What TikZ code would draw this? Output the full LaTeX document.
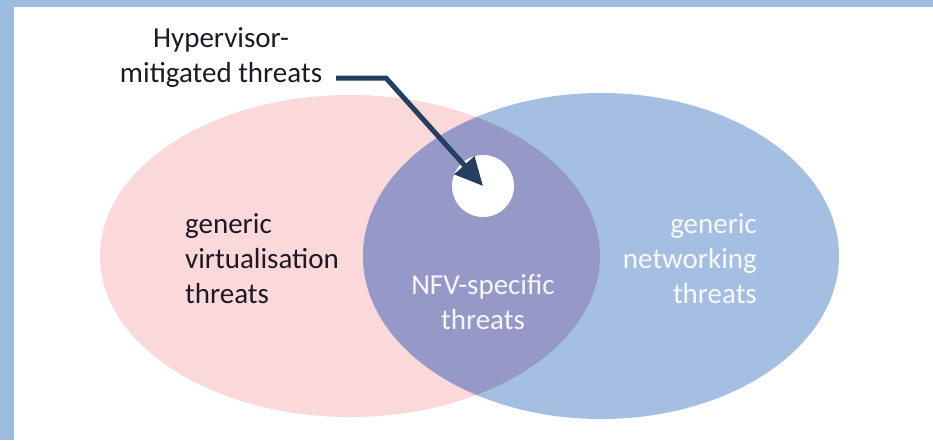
\documentclass[tikz,border=0pt]{standalone}
\usepackage{fontspec}
\setmainfont{Carlito}
\usetikzlibrary{arrows.meta}
\definecolor{frameblue}{RGB}{155,188,222}
\definecolor{virtpink}{RGB}{251,216,217}
\definecolor{netblue}{RGB}{164,191,225}
\definecolor{nfvpurple}{RGB}{150,153,200}
\definecolor{arrownavy}{RGB}{38,62,98}
\definecolor{darktext}{RGB}{28,26,36}
\begin{document}
\begin{tikzpicture}
    [x=1pt,y=-1pt,
     txt/.style={font=\fontsize{29}{35}\selectfont,inner sep=0pt},
     pointer/.style={draw=arrownavy,line width=5pt,line join=miter,
       -{Triangle[length=28pt,width=26pt]}}]
    \useasboundingbox (0,0) rectangle (933,440);
    \fill[white] (0,0) rectangle (933,440);
    \fill[frameblue] (0,0) rectangle (933,7);
    \fill[frameblue] (0,0) rectangle (14,440);
    \fill[virtpink] (350,256) ellipse [x radius=250,y radius=161];
    \fill[netblue] (601,256) ellipse [x radius=238,y radius=163];
    \begin{scope}
      \clip (350,256) ellipse [x radius=250,y radius=161];
      \fill[nfvpurple] (601,256) ellipse [x radius=238,y radius=163];
    \end{scope}
    \node[circle,fill=white,minimum size=62pt,inner sep=0pt] (hole) at (483,186) {};
    \node[txt,align=center,anchor=base,text=darktext] (hyper) at (221,82)
      {Hypervisor-\\mitigated threats};
    \node[txt,align=left,anchor=base west,text=darktext] (virt) at (185,303)
      {generic\\virtualisation\\threats};
    \node[txt,align=right,anchor=base east,text=white!92!netblue] (net) at (757,303)
      {generic\\networking\\threats};
    \node[txt,align=center,anchor=base,text=white!92!nfvpurple] (nfv) at (483,329)
      {NFV-specific\\threats};
    \coordinate (start) at (336,78);
    \coordinate (bend) at (386,78);
    \draw[pointer] (start) -- (bend) -- (hole.center);
\end{tikzpicture}
\end{document}
